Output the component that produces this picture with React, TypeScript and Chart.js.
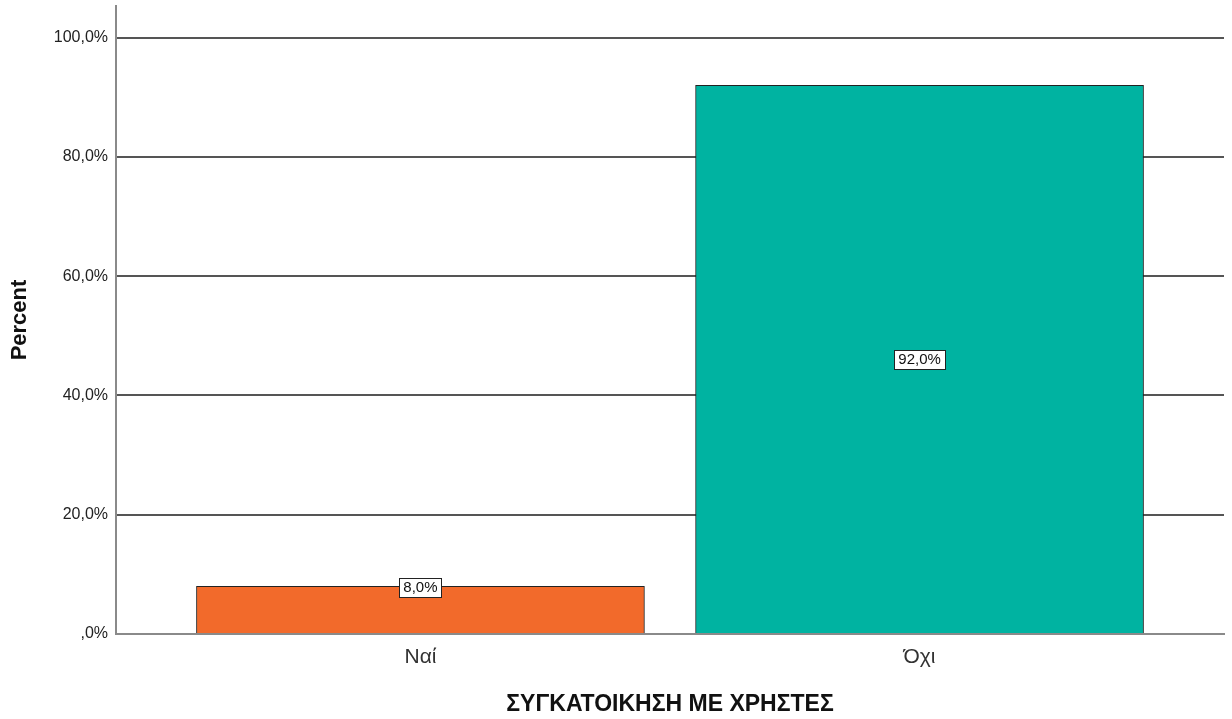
import React, { useEffect, useRef } from "react";
import { Chart, registerables } from "chart.js";

Chart.register(...registerables);

const categories = ["Ναί", "Όχι"];
const percentValues = [8.0, 92.0];
const barColors = ["#F26A2B", "#00B3A1"];
const yTickValues = [0, 20, 40, 60, 80, 100];
const xTitle = "ΣΥΓΚΑΤΟΙΚΗΣΗ ΜΕ ΧΡΗΣΤΕΣ";
const yTitle = "Percent";

const FONT = "'Liberation Sans', Arial, sans-serif";

const fmtPct = (v: number) => {
  const s = v.toFixed(1).replace(".", ",");
  return (s.startsWith("0,") ? s.slice(1) : s) + "%";
};

const labelPlugin = {
  id: "barLabels",
  afterDatasetsDraw(chart: any) {
    const ctx = chart.ctx;
    const meta = chart.getDatasetMeta(0);
    ctx.save();
    ctx.font = `15px ${FONT}`;
    ctx.textAlign = "center";
    ctx.textBaseline = "middle";
    meta.data.forEach((bar: any, i: number) => {
      const text = fmtPct(percentValues[i]);
      const w = Math.round(ctx.measureText(text).width + 8);
      const h = 19;
      const top = Math.min(bar.y, bar.base);
      const base = Math.max(bar.y, bar.base);
      let cy = (top + base) / 2;
      if (base - top < 3 * h) cy = top + 1;
      const x = bar.x;
      const bx = Math.round(x - w / 2) + 0.5;
      const by = Math.round(cy - h / 2) + 0.5;
      ctx.fillStyle = "#ffffff";
      ctx.fillRect(bx, by, w, h);
      ctx.strokeStyle = "#222";
      ctx.lineWidth = 1;
      ctx.strokeRect(bx, by, w, h);
      ctx.fillStyle = "#111";
      ctx.fillText(text, x, cy + 1);
    });
    ctx.restore();
  },
};

export default function App() {
  const ref = useRef<HTMLCanvasElement>(null);
  useEffect(() => {
    document.body.style.margin = "0";
    const chart = new Chart(ref.current!, {
      type: "bar",
      data: {
        datasets: [
          {
            data: percentValues.map((v, i) => ({ x: i, y: v })),
            backgroundColor: barColors,
            borderColor: "#222",
            borderWidth: 1,
            barThickness: 448,
          },
        ],
      },
      plugins: [labelPlugin],
      options: {
        animation: false,
        responsive: false,
        maintainAspectRatio: false,
        layout: { padding: { top: 6, right: 8, left: 0, bottom: 0 } },
        plugins: { legend: { display: false }, tooltip: { enabled: false } },
        scales: {
          x: {
            type: "linear",
            offset: false,
            min: -0.61,
            max: 1.61,
            afterBuildTicks: (s: any) => {
              s.ticks = categories.map((_, i) => ({ value: i }));
            },
            afterFit: (s: any) => {
              s.height = 85;
              s.paddingLeft = 0;
              s.paddingRight = 0;
            },
            grid: { display: false, drawTicks: false, offset: false },
            border: { display: true, color: "#8a8a8a", width: 2 },
            ticks: {
              padding: 11,
              font: { family: FONT, size: 21 },
              color: "#333",
              maxRotation: 0,
              callback: (v: any) => categories[v] ?? "",
            },
            title: {
              display: true,
              text: xTitle,
              color: "#111",
              font: { family: FONT, size: 23, weight: "bold" },
              padding: { top: 0, bottom: 1 },
            },
          },
          y: {
            min: 0,
            max: 105.3,
            afterBuildTicks: (s: any) => {
              s.ticks = yTickValues.map((v) => ({ value: v }));
            },
            afterFit: (s: any) => {
              s.width = 116;
              s.paddingTop = 0;
              s.paddingBottom = 0;
            },
            grid: { color: "#555", lineWidth: 2, drawTicks: false },
            border: { display: true, color: "#8a8a8a", width: 2 },
            ticks: {
              padding: 8,
              font: { family: FONT, size: 16 },
              color: "#222",
              callback: (v: any) => fmtPct(Number(v)),
            },
            title: {
              display: true,
              text: yTitle,
              color: "#111",
              font: { family: FONT, size: 22, weight: "bold" },
              padding: { top: 7, bottom: 0 },
            },
          },
        },
      },
    } as any);
    return () => chart.destroy();
  }, []);
  return (
    <div style={{ position: "absolute", left: 0, top: 0, width: 1232, height: 719 }}>
      <canvas ref={ref} width={1232} height={719} style={{ width: 1232, height: 719 }} />
    </div>
  );
}
